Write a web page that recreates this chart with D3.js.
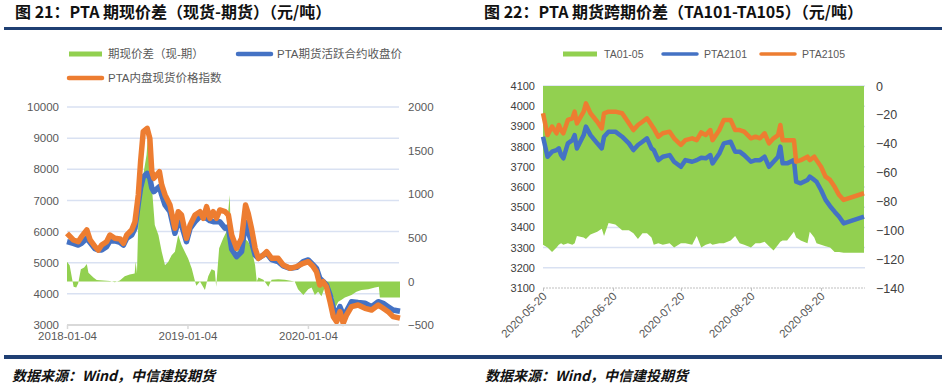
<!DOCTYPE html>
<html><head><meta charset="utf-8">
<script src="https://cdn.jsdelivr.net/npm/d3@7"></script>
<style>
body{margin:0;background:#fff;}
svg{display:block;font-family:"Liberation Sans","Noto Sans CJK SC",sans-serif;}
</style></head><body>
<svg id="c" width="948" height="388"></svg>
<script>
// ---------- Left chart data (图21) ----------
const leftDates = ["2018-01-04","2018-01-23","2018-02-07","2018-02-17","2018-03-05","2018-03-15","2018-03-30","2018-04-09","2018-04-19","2018-05-04","2018-05-14","2018-05-29","2018-06-14","2018-06-24","2018-07-04","2018-07-19","2018-07-29","2018-08-08","2018-08-15","2018-08-23","2018-09-04","2018-09-12","2018-09-18","2018-09-24","2018-10-11","2018-10-18","2018-10-28","2018-11-12","2018-11-27","2018-12-07","2018-12-17","2019-01-01","2019-01-12","2019-01-27","2019-02-11","2019-02-21","2019-03-03","2019-03-13","2019-03-23","2019-04-02","2019-04-12","2019-04-28","2019-05-08","2019-05-18","2019-06-02","2019-06-17","2019-06-29","2019-07-07","2019-07-17","2019-07-28","2019-08-07","2019-08-22","2019-09-01","2019-09-16","2019-10-06","2019-10-21","2019-11-11","2019-12-01","2019-12-21","2020-01-05","2020-01-20","2020-01-30","2020-02-09","2020-02-19","2020-02-29","2020-03-11","2020-03-21","2020-03-31","2020-04-10","2020-04-20","2020-04-30","2020-05-15","2020-06-04","2020-06-25","2020-07-15","2020-08-04","2020-08-19","2020-09-03","2020-09-18","2020-10-09"];
const spotIndex = [5944,5730,5676,5837,6051,5730,5515,5408,5568,5676,5890,5783,5762,5622,5890,6051,6318,7175,8245,9208,9315,8994,7924,7710,7924,7496,7175,6854,6105,6639,6532,5783,6211,6532,6639,6425,6800,6425,6639,6425,6693,6640,6532,5890,5463,5783,6854,6586,6105,5463,5141,5249,5355,5141,5141,4927,4820,4874,4981,5034,4874,4712,4285,4392,4231,3749,3268,3107,3428,3053,3321,3589,3642,3535,3482,3642,3535,3428,3268,3220];
const futuresClose = [5676,5622,5568,5622,5783,5650,5450,5408,5408,5515,5700,5700,5650,5568,5783,5890,6105,6900,7400,7750,7870,7710,7400,7282,7442,7175,6854,6639,5944,6318,6211,5676,6105,6318,6479,6450,6425,6350,6318,6318,6318,6105,6150,5435,5195,5355,6300,6000,5676,5249,5141,5249,5302,5100,5034,4900,4820,4850,5034,5088,4927,4820,4499,4400,4285,3964,3535,3321,3589,3321,3450,3749,3720,3696,3589,3749,3696,3589,3482,3440];
const basisDates = ["2018-01-04","2018-01-12","2018-01-20","2018-01-24","2018-02-01","2018-02-07","2018-02-15","2018-02-25","2018-03-05","2018-03-10","2018-03-25","2018-04-04","2018-04-24","2018-05-14","2018-05-29","2018-06-13","2018-06-28","2018-07-13","2018-07-28","2018-07-31","2018-08-04","2018-08-08","2018-08-18","2018-09-02","2018-09-09","2018-09-13","2018-09-17","2018-09-27","2018-10-08","2018-10-18","2018-10-28","2018-11-07","2018-11-17","2018-11-27","2018-12-07","2018-12-17","2018-12-27","2019-01-06","2019-01-17","2019-01-27","2019-01-31","2019-02-11","2019-02-26","2019-03-08","2019-03-18","2019-03-28","2019-04-01","2019-04-10","2019-04-22","2019-05-02","2019-05-12","2019-05-16","2019-05-28","2019-06-07","2019-06-17","2019-06-27","2019-07-07","2019-07-17","2019-07-28","2019-08-02","2019-08-07","2019-08-22","2019-09-06","2019-09-16","2019-10-06","2019-10-26","2019-11-25","2019-12-05","2019-12-21","2020-01-05","2020-01-15","2020-01-25","2020-02-04","2020-02-14","2020-02-24","2020-03-11","2020-03-21","2020-03-26","2020-04-05","2020-04-15","2020-04-25","2020-05-05","2020-05-15","2020-05-30","2020-06-14","2020-07-05","2020-07-25","2020-08-06","2020-08-09","2020-10-09"];
const basisValues = [226,185,20,-60,-70,-20,140,160,200,100,45,15,10,5,-10,10,60,80,90,226,90,684,1105,1450,1794,1490,1143,647,532,341,185,226,300,341,532,418,341,262,147,0,-50,0,-99,60,140,122,-60,379,493,570,991,455,262,379,341,493,455,379,185,0,45,20,-60,20,25,20,0,-90,-156,-90,-70,-156,-120,-170,-70,-90,-185,-309,-232,-210,-185,-170,-156,-120,-99,-90,-70,-60,-185,-185];
const leftYTicks = [3000,4000,5000,6000,7000,8000,9000,10000];
const leftY2Ticks = [-500,0,500,1000,1500,2000];
const leftXTicks = ["2018-01-04","2019-01-04","2020-01-04"];

// ---------- Right chart data (图22) ----------
const rightDates = ["2020-05-20","2020-05-22","2020-05-24","2020-05-26","2020-05-27","2020-05-28","2020-05-29","2020-05-31","2020-06-02","2020-06-03","2020-06-04","2020-06-07","2020-06-08","2020-06-10","2020-06-13","2020-06-15","2020-06-16","2020-06-18","2020-06-21","2020-06-24","2020-06-27","2020-06-29","2020-07-01","2020-07-03","2020-07-05","2020-07-07","2020-07-08","2020-07-10","2020-07-12","2020-07-15","2020-07-17","2020-07-20","2020-07-22","2020-07-25","2020-07-27","2020-07-29","2020-07-31","2020-08-02","2020-08-03","2020-08-06","2020-08-08","2020-08-11","2020-08-13","2020-08-15","2020-08-17","2020-08-20","2020-08-22","2020-08-24","2020-08-26","2020-08-28","2020-08-30","2020-09-01","2020-09-02","2020-09-03","2020-09-05","2020-09-08","2020-09-09","2020-09-11","2020-09-14","2020-09-15","2020-09-17","2020-09-18","2020-09-20","2020-09-22","2020-09-24","2020-09-26","2020-09-28","2020-09-30","2020-10-09"];
const pta2105 = [3965,3857,3899,3866,3907,3880,3866,3932,3940,3973,3915,3973,4014,3965,3923,3890,3965,3973,3973,3965,3915,3882,3907,3923,3940,3907,3890,3849,3866,3874,3841,3808,3832,3841,3832,3870,3857,3882,3832,3882,3932,3932,3882,3882,3874,3841,3849,3841,3866,3816,3841,3857,3907,3832,3832,3832,3725,3733,3750,3733,3750,3733,3700,3651,3635,3601,3560,3536,3569];
const pta2101 = [3849,3750,3775,3783,3791,3758,3742,3816,3832,3857,3791,3857,3899,3857,3816,3791,3849,3874,3874,3849,3816,3783,3808,3824,3841,3791,3783,3733,3750,3758,3725,3700,3733,3725,3733,3745,3742,3758,3717,3766,3816,3824,3775,3775,3758,3725,3733,3733,3750,3700,3725,3750,3800,3717,3717,3733,3626,3618,3635,3651,3635,3626,3585,3536,3505,3478,3453,3420,3453];
const ta0105 = [-110,-112,-115,-112,-110,-109,-110,-109,-110,-109,-104,-105,-106,-103,-101,-99,-104,-95,-96,-100,-100,-102,-106,-102,-102,-105,-110,-109,-110,-109,-112,-109,-109,-110,-104,-112,-110,-109,-110,-109,-109,-107,-104,-109,-110,-112,-109,-109,-108,-111,-114,-110,-108,-107,-107,-101,-105,-107,-109,-101,-105,-109,-110,-111,-112,-115,-115,-115.5,-115.5];
const rightYTicks = [3100,3200,3300,3400,3500,3600,3700,3800,3900,4000,4100];
const rightY2Ticks = [-140,-120,-100,-80,-60,-40,-20,0];
const rightXTicks = ["2020-05-20","2020-06-20","2020-07-20","2020-08-20","2020-09-20"];

const GREEN="#92D050", BLUE="#4472C4", ORANGE="#ED7D31", GRID="#D9E1F2", NAVY="#1F3F73", LABEL="#595959";
const parse = d3.timeParse("%Y-%m-%d");
const fmtDate = d3.timeFormat("%Y-%m-%d");
const svg = d3.select("#c");

// header & footer rules
svg.append("rect").attr("x",4).attr("y",27).attr("width",938).attr("height",3).attr("fill",NAVY);
svg.append("rect").attr("x",4).attr("y",355).attr("width",938).attr("height",4).attr("fill",NAVY);

const titleStyle = s => s.attr("font-family","'Noto Sans CJK SC',sans-serif").attr("font-weight","bold").attr("font-size",16).attr("fill","#111");
svg.append("text").attr("x",15).attr("y",18).text("图 21：PTA 期现价差（现货-期货）（元/吨）").call(titleStyle);
svg.append("text").attr("x",484).attr("y",18).text("图 22：PTA 期货跨期价差（TA101-TA105）（元/吨）").call(titleStyle);

const footStyle = s => s.attr("font-family","'Noto Sans CJK SC',serif").attr("font-weight","bold").attr("font-style","italic").attr("font-size",14).attr("fill","#111");
svg.append("text").attr("x",12).attr("y",381).text("数据来源：Wind，中信建投期货").call(footStyle);
svg.append("text").attr("x",485).attr("y",381).text("数据来源：Wind，中信建投期货").call(footStyle);

// ================= LEFT CHART =================
{
  const x = d3.scaleTime().domain([parse("2018-01-04"), parse("2020-10-09")]).range([67, 400]);
  const yL = d3.scaleLinear().domain([3000,10000]).range([325,107]);
  const yR = d3.scaleLinear().domain([-500,2000]).range([325,107]);
  const g = svg.append("g");

  g.selectAll(".grid").data(leftYTicks.filter(v=>v>3000)).join("line")
    .attr("x1",67).attr("x2",399).attr("y1",d=>yL(d)).attr("y2",d=>yL(d))
    .attr("stroke",GRID).attr("stroke-width",1.5);

  const basis = basisDates.map((d,i)=>({d:parse(d), v:basisValues[i]}));
  g.append("path").datum(basis)
    .attr("d", d3.area().x(p=>x(p.d)).y0(yR(0)).y1(p=>yR(p.v)))
    .attr("fill",GREEN);

  const fut = leftDates.map((d,i)=>({d:parse(d), v:futuresClose[i]}));
  const spot = leftDates.map((d,i)=>({d:parse(d), v:spotIndex[i]}));
  const line = d3.line().x(p=>x(p.d)).y(p=>yL(p.v));
  g.append("path").datum(fut).attr("d",line).attr("fill","none").attr("stroke",BLUE).attr("stroke-width",5.5).attr("stroke-linejoin","round");
  g.append("path").datum(spot).attr("d",line).attr("fill","none").attr("stroke",ORANGE).attr("stroke-width",5.5).attr("stroke-linejoin","round");

  g.append("line").attr("x1",67).attr("x2",399).attr("y1",325).attr("y2",325).attr("stroke","#D9D9D9").attr("stroke-width",2);
  const xa = g.append("g").attr("transform","translate(0,325)")
    .call(d3.axisBottom(x).tickValues(leftXTicks.map(parse)).tickFormat(fmtDate).tickSize(4).tickPadding(3));
  xa.select(".domain").remove();
  xa.selectAll("line").attr("stroke","#D9D9D9").attr("stroke-width",1.5);
  xa.selectAll("text").attr("fill",LABEL).attr("font-size",11.5).attr("font-family","'Liberation Sans',sans-serif");

  const ya = g.append("g").attr("transform","translate(67,0)")
    .call(d3.axisLeft(yL).tickValues(leftYTicks).tickFormat(d3.format("d")).tickSize(0).tickPadding(8));
  ya.select(".domain").remove();
  ya.selectAll("text").attr("fill",LABEL).attr("font-size",11.5).attr("font-family","'Liberation Sans',sans-serif");

  const ya2 = g.append("g").attr("transform","translate(399,0)")
    .call(d3.axisRight(yR).tickValues(leftY2Ticks).tickFormat(d3.format("d")).tickSize(0).tickPadding(9));
  ya2.select(".domain").remove();
  ya2.selectAll("text").attr("fill",LABEL).attr("font-size",11.5).attr("font-family","'Liberation Sans',sans-serif");

  const leg = [
    {t:"期现价差（现-期）", c:GREEN, x:67, y:54, cap:"butt"},
    {t:"PTA期货活跃合约收盘价", c:BLUE, x:236, y:54, cap:"round"},
    {t:"PTA内盘现货价格指数", c:ORANGE, x:67, y:78, cap:"round"}
  ];
  leg.forEach(l=>{
    g.append("line").attr("x1",l.x+2).attr("x2",l.x+35).attr("y1",l.y).attr("y2",l.y)
      .attr("stroke",l.c).attr("stroke-width",l.cap==="butt"?5:4.5).attr("stroke-linecap",l.cap);
    g.append("text").attr("x",l.x+41).attr("y",l.y+4).text(l.t)
      .attr("fill",LABEL).attr("font-size",11.5).attr("font-family","'Liberation Sans','Noto Sans CJK SC',sans-serif");
  });
}

// ================= RIGHT CHART =================
{
  const x = d3.scaleTime().domain([parse("2020-05-20"), parse("2020-10-09")]).range([543, 864]);
  const yL = d3.scaleLinear().domain([3100,4100]).range([288,86]);
  const yR = d3.scaleLinear().domain([-140,0]).range([288,86]);
  const g = svg.append("g");

  g.selectAll(".grid").data(rightYTicks.filter(v=>v>3100)).join("line")
    .attr("x1",543).attr("x2",865).attr("y1",d=>yL(d)).attr("y2",d=>yL(d))
    .attr("stroke",GRID).attr("stroke-width",1.5);

  const sp = rightDates.map((d,i)=>({d:parse(d), v:ta0105[i]}));
  g.append("path").datum(sp)
    .attr("d", d3.area().x(p=>x(p.d)).y0(yR(0)).y1(p=>yR(p.v)))
    .attr("fill",GREEN);

  const line = d3.line().x(p=>x(p.d)).y(p=>yL(p.v));
  const b = rightDates.map((d,i)=>({d:parse(d), v:pta2101[i]}));
  const o = rightDates.map((d,i)=>({d:parse(d), v:pta2105[i]}));
  g.append("path").datum(b).attr("d",line).attr("fill","none").attr("stroke",BLUE).attr("stroke-width",4.5).attr("stroke-linejoin","round");
  g.append("path").datum(o).attr("d",line).attr("fill","none").attr("stroke",ORANGE).attr("stroke-width",4.5).attr("stroke-linejoin","round");

  g.append("line").attr("x1",543).attr("x2",865).attr("y1",288).attr("y2",288)
    .attr("stroke","#BFBFBF").attr("stroke-width",1.2).attr("stroke-dasharray","2,1");

  const xa = g.append("g").attr("transform","translate(0,288)")
    .call(d3.axisBottom(x).tickValues(rightXTicks.map(parse)).tickFormat(fmtDate).tickSize(3).tickPadding(0));
  xa.select(".domain").remove();
  xa.selectAll("line").attr("stroke","#BFBFBF");
  xa.selectAll("text").attr("fill",LABEL).attr("font-size",11.5).attr("font-family","'Liberation Sans',sans-serif")
    .attr("text-anchor","end").attr("dy",0).attr("y",0)
    .attr("transform","translate(4,9) rotate(-45)");

  const ya = g.append("g").attr("transform","translate(543,0)")
    .call(d3.axisLeft(yL).tickValues(rightYTicks).tickFormat(d3.format("d")).tickSize(0).tickPadding(8));
  ya.select(".domain").remove();
  ya.selectAll("text").attr("fill","#404040").attr("font-size",11).attr("font-family","'Liberation Sans',sans-serif");

  const ya2 = g.append("g").attr("transform","translate(865,0)")
    .call(d3.axisRight(yR).tickValues(rightY2Ticks).tickFormat(d3.format("d")).tickSize(0).tickPadding(11));
  ya2.select(".domain").remove();
  ya2.selectAll("text").attr("fill","#404040").attr("font-size",12.5).attr("font-family","'Liberation Sans',sans-serif");

  const leg = [
    {t:"TA01-05", c:GREEN, x:562, cap:"butt"},
    {t:"PTA2101", c:BLUE, x:662, cap:"round"},
    {t:"PTA2105", c:ORANGE, x:760, cap:"round"}
  ];
  leg.forEach(l=>{
    g.append("line").attr("x1",l.x+1).attr("x2",l.x+35).attr("y1",54).attr("y2",54)
      .attr("stroke",l.c).attr("stroke-width",l.cap==="butt"?5:3.5).attr("stroke-linecap",l.cap);
    g.append("text").attr("x",l.x+42).attr("y",58).text(l.t)
      .attr("fill",LABEL).attr("font-size",10.5).attr("font-family","'Liberation Sans',sans-serif");
  });
}
</script>
</body></html>
